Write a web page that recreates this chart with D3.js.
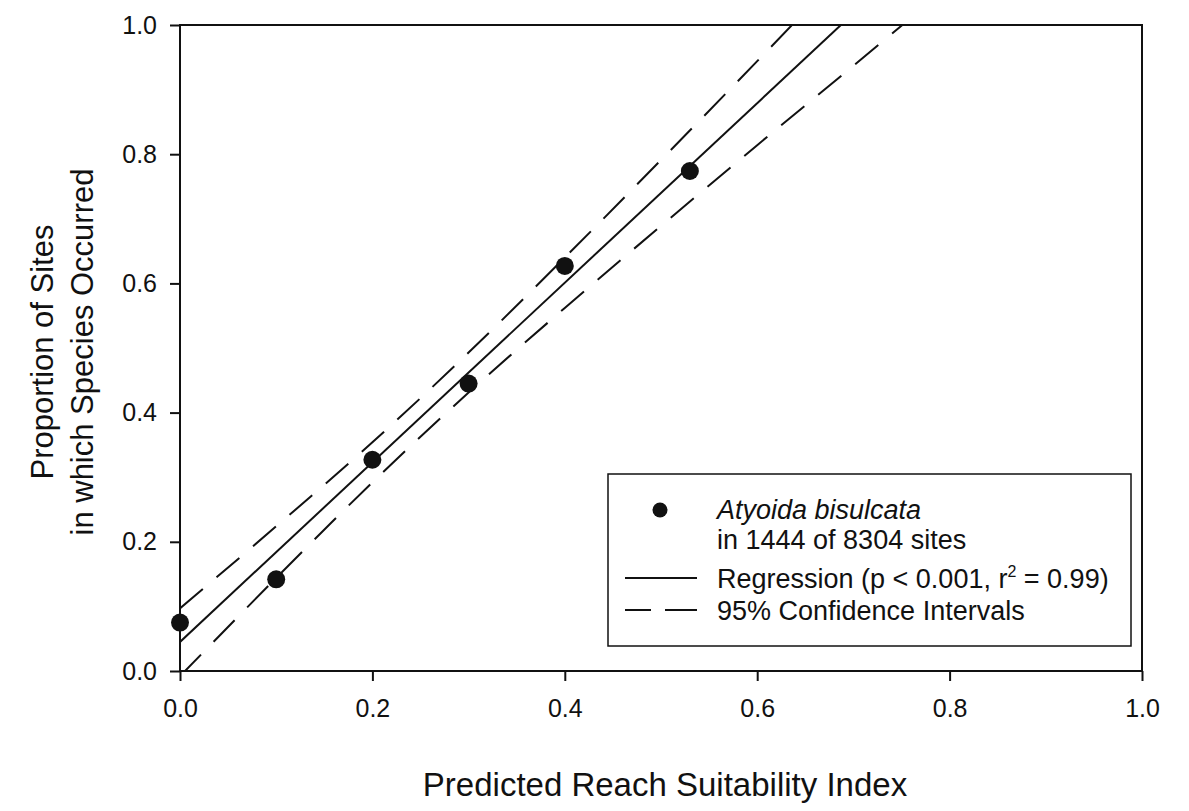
<!DOCTYPE html>
<html>
<head>
<meta charset="utf-8">
<script src="https://cdn.jsdelivr.net/npm/d3@7"></script>
<style>
  html, body { margin: 0; padding: 0; background: #fff; }
  svg { display: block; }
  text { font-family: "Liberation Sans", Arial, sans-serif; fill: #111; }
</style>
</head>
<body>
<svg id="chart" width="1189" height="811"></svg>
<script>
// ---- data ----
const xPoints = [0, 0.1, 0.2, 0.3, 0.4, 0.53];
const yPoints = [0.075, 0.142, 0.327, 0.445, 0.627, 0.774];

const regX = [0, 0.687];
const regY = [0.045, 1.0];

const ciX     = [0, 0.1, 0.2, 0.3, 0.4, 0.5, 0.6, 0.7, 0.8];
const ciUpper = [0.097, 0.224, 0.354, 0.493, 0.640, 0.791, 0.944, 1.099, 1.253];
const ciLower = [-0.008, 0.144, 0.292, 0.431, 0.562, 0.689, 0.814, 0.937, 1.061];

const xTicks = [0, 0.2, 0.4, 0.6, 0.8, 1.0];
const yTicks = [0, 0.2, 0.4, 0.6, 0.8, 1.0];

const xTitle = "Predicted Reach Suitability Index";
const yTitle = ["Proportion of Sites", "in which Species Occurred"];

// ---- layout ----
const svg = d3.select("#chart");
const L = 180, R = 1142, T = 25, B = 671;
const x = d3.scaleLinear().domain([0, 1]).range([L, R]);
const y = d3.scaleLinear().domain([0, 1]).range([B, T]);

svg.append("defs").append("clipPath").attr("id", "plotclip")
  .append("rect").attr("x", L).attr("y", T).attr("width", R - L).attr("height", B - T);

const plot = svg.append("g").attr("clip-path", "url(#plotclip)");

const lineGen = d3.line().x(d => x(d[0])).y(d => y(d[1]));
const curveGen = d3.line().x(d => x(d[0])).y(d => y(d[1])).curve(d3.curveMonotoneX);

const DASH = "30,18";

plot.append("path")
  .attr("d", curveGen(ciX.map((v, i) => [v, ciUpper[i]])))
  .attr("fill", "none").attr("stroke", "#111").attr("stroke-width", 2)
  .attr("stroke-dasharray", DASH);
plot.append("path")
  .attr("d", curveGen(ciX.map((v, i) => [v, ciLower[i]])))
  .attr("fill", "none").attr("stroke", "#111").attr("stroke-width", 2)
  .attr("stroke-dasharray", DASH);
plot.append("path")
  .attr("d", lineGen(regX.map((v, i) => [v, regY[i]])))
  .attr("fill", "none").attr("stroke", "#111").attr("stroke-width", 2);

// frame
svg.append("rect").attr("x", L).attr("y", T).attr("width", R - L).attr("height", B - T)
  .attr("fill", "none").attr("stroke", "#111").attr("stroke-width", 2);

// axes
const fmt = d3.format(".1f");
const gx = svg.append("g").attr("transform", `translate(0,${B})`)
  .call(d3.axisBottom(x).tickValues(xTicks).tickFormat(fmt).tickSize(10).tickSizeOuter(0).tickPadding(18));
const gy = svg.append("g").attr("transform", `translate(${L},0)`)
  .call(d3.axisLeft(y).tickValues(yTicks).tickFormat(fmt).tickSize(10).tickSizeOuter(0).tickPadding(13));
[gx, gy].forEach(g => {
  g.select(".domain").remove();
  g.selectAll(".tick line").attr("stroke", "#111").attr("stroke-width", 2);
  g.selectAll(".tick text").attr("font-size", 25).attr("fill", "#111")
    .style("font-family", '"Liberation Sans", Arial, sans-serif');
});

// points (drawn over frame)
svg.append("g").selectAll("circle").data(xPoints.map((v, i) => [v, yPoints[i]]))
  .join("circle")
  .attr("cx", d => x(d[0])).attr("cy", d => y(d[1])).attr("r", 9).attr("fill", "#111");

// axis titles
svg.append("text").attr("x", 665).attr("y", 796)
  .attr("text-anchor", "middle").attr("font-size", 33).text(xTitle);
const yt = svg.append("text").attr("transform", `translate(53,352) rotate(-90)`)
  .attr("text-anchor", "middle").attr("font-size", 31);
yt.append("tspan").attr("x", 0).attr("dy", 0).text(yTitle[0]);
yt.append("tspan").attr("x", 0).attr("dy", 40).text(yTitle[1]);

// legend
const lg = svg.append("g");
lg.append("rect").attr("x", 608).attr("y", 474).attr("width", 523).attr("height", 172)
  .attr("fill", "#fff").attr("stroke", "#111").attr("stroke-width", 1.5);
lg.append("circle").attr("cx", 660).attr("cy", 510).attr("r", 7.5).attr("fill", "#111");
lg.append("text").attr("x", 717).attr("y", 519).attr("font-size", 27).attr("font-style", "italic")
  .text("Atyoida bisulcata");
lg.append("text").attr("x", 717).attr("y", 549).attr("font-size", 27).text("in 1444 of 8304 sites");
lg.append("line").attr("x1", 625).attr("x2", 697).attr("y1", 578).attr("y2", 578)
  .attr("stroke", "#111").attr("stroke-width", 2);
const rt = lg.append("text").attr("x", 717).attr("y", 588).attr("font-size", 27);
rt.append("tspan").text("Regression (p < 0.001, r");
rt.append("tspan").attr("font-size", 16).attr("dy", -11).text("2");
rt.append("tspan").attr("dy", 11).text(" = 0.99)");
lg.append("line").attr("x1", 625).attr("x2", 697).attr("y1", 610).attr("y2", 610)
  .attr("stroke", "#111").attr("stroke-width", 2).attr("stroke-dasharray", "26,14,40,100");
lg.append("text").attr("x", 717).attr("y", 620).attr("font-size", 27).text("95% Confidence Intervals");
</script>
</body>
</html>
